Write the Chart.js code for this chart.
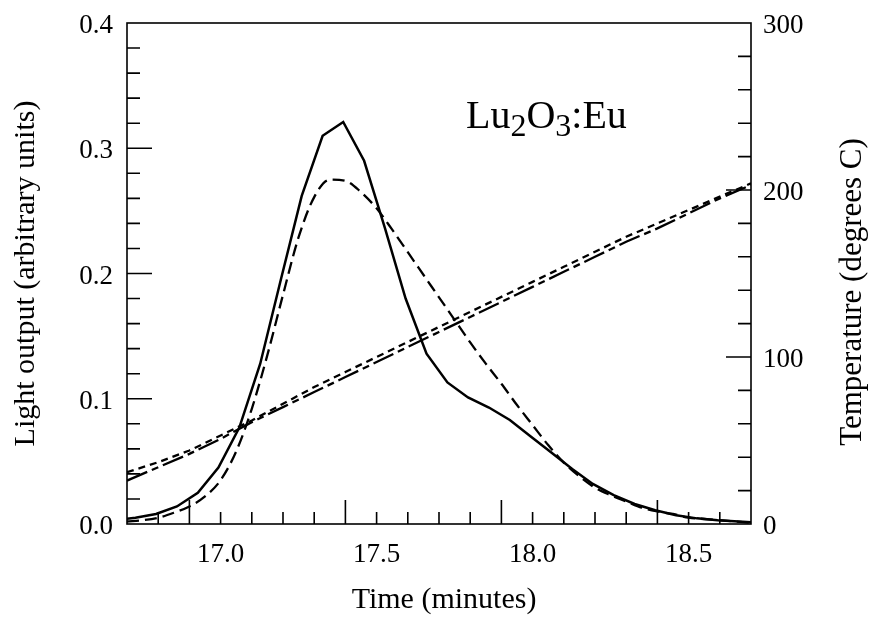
<!DOCTYPE html>
<html>
<head>
<meta charset="utf-8">
<script src="https://cdn.jsdelivr.net/npm/chart.js@4/dist/chart.umd.min.js"></script>
<style>
    body { margin: 0; background: #fff; }
    canvas { display: block; }
</style>
</head>
<body>
<canvas id="glowChart" width="869" height="620"></canvas>
<script>
// measured glow curve (solid)
const timeMeasured = [16.66, 16.727, 16.793, 16.86, 16.927, 16.993, 17.06, 17.127, 17.193, 17.26,
    17.327, 17.393, 17.46, 17.527, 17.593, 17.66, 17.727, 17.793, 17.86, 17.927,
    17.993, 18.06, 18.127, 18.193, 18.26, 18.327, 18.393, 18.46, 18.527, 18.593, 18.66, 18.727];
const lightMeasured = [0.003, 0.005, 0.008, 0.014, 0.025, 0.045, 0.077, 0.128, 0.195, 0.262,
    0.310, 0.321, 0.290, 0.236, 0.180, 0.136, 0.113, 0.101, 0.093, 0.083,
    0.070, 0.057, 0.044, 0.032, 0.023, 0.016, 0.011, 0.007, 0.0045, 0.003, 0.002, 0.001];

// fitted glow curve (long dash)
const timeFit = [16.70, 16.75, 16.80, 16.85, 16.90, 16.95, 17.00, 17.05, 17.10, 17.15,
    17.20, 17.25, 17.30, 17.35, 17.40, 17.45, 17.50, 17.55, 17.60, 17.65,
    17.70, 17.75, 17.80, 17.85, 17.90, 17.95, 18.00, 18.05, 18.10, 18.15,
    18.20, 18.25, 18.30, 18.35, 18.40, 18.45, 18.50, 18.55, 18.60, 18.65, 18.70];
const lightFit = [0.002, 0.003, 0.005, 0.009, 0.014, 0.022, 0.035, 0.058, 0.092, 0.135,
    0.183, 0.229, 0.261, 0.275, 0.274, 0.265, 0.252, 0.235, 0.217, 0.199,
    0.181, 0.163, 0.145, 0.128, 0.112, 0.095, 0.079, 0.063, 0.049, 0.038,
    0.029, 0.023, 0.018, 0.013, 0.010, 0.008, 0.005, 0.004, 0.003, 0.002, 0.001];

// temperature traces (right axis)
const timeTemp = [16.7, 16.8, 16.9, 17.0, 17.1, 17.2, 17.3, 17.4, 17.5, 17.6,
    17.7, 17.8, 17.9, 18.0, 18.1, 18.2, 18.3, 18.4, 18.5, 18.6, 18.7];
const tempShortDash = [31, 37, 44, 53, 62, 72, 82, 91, 100, 109,
    118, 127, 136, 145, 154, 163, 172, 180, 188, 196, 204];
const tempDashDot = [26, 34, 42, 51, 61, 70, 79, 88, 97, 106,
    115, 124, 133, 142, 151, 160, 169, 177, 186, 195, 203];

const xTicks = [17.0, 17.5, 18.0, 18.5];
const lightTicks = [0.0, 0.1, 0.2, 0.3, 0.4];
const tempTicks = [0, 100, 200, 300];

const FONT = "'Liberation Serif', 'Times New Roman', serif";

let glowPage = {};

glowPage.toPoints = function (xs, ys) {
    return xs.map((x, i) => ({ x: x, y: ys[i] }));
};

glowPage.fixedTicks = function (values) {
    return function (scale) {
        scale.ticks = values.map((v) => ({ value: v }));
    };
};

// fixed axis width, and no extra room kept for the end labels
glowPage.fixedWidth = function (width) {
    return function (scale) {
        scale.width = width;
        scale.paddingTop = 0;
        scale.paddingBottom = 0;
    };
};

// inward tick marks, frame, axis titles and the sample label
glowPage.decorPlugin = {
    id: "decor",
    afterDraw(chart) {
        const ctx = chart.ctx;
        const a = chart.chartArea;
        const sx = chart.scales.x;
        const sy = chart.scales.y;
        const sy2 = chart.scales.y2;

        ctx.save();
        ctx.strokeStyle = "#000";
        ctx.lineWidth = 1.6;
        ctx.strokeRect(a.left, a.top, a.right - a.left, a.bottom - a.top);

        ctx.beginPath();
        for (let i = 1; i < 20; i++) {
            let px = sx.getPixelForValue(16.7 + i * 0.1);
            let len = (i + 3) % 5 == 0 ? 24 : 12;
            ctx.moveTo(px, a.bottom);
            ctx.lineTo(px, a.bottom - len);
        }
        for (let i = 1; i < 20; i++) {
            let py = sy.getPixelForValue(i * 0.02);
            let len = i % 5 == 0 ? 25 : 13;
            ctx.moveTo(a.left, py);
            ctx.lineTo(a.left + len, py);
        }
        for (let i = 1; i < 15; i++) {
            let py = sy2.getPixelForValue(i * 20);
            let len = i % 5 == 0 ? 25 : 13;
            ctx.moveTo(a.right, py);
            ctx.lineTo(a.right - len, py);
        }
        ctx.stroke();

        ctx.fillStyle = "#000";
        ctx.font = "30px " + FONT;
        ctx.textAlign = "center";
        ctx.textBaseline = "middle";
        ctx.fillText("Time (minutes)", 444, 600);

        ctx.save();
        ctx.translate(26, (a.top + a.bottom) / 2);
        ctx.rotate(-Math.PI / 2);
        ctx.fillText("Light output (arbitrary units)", 0, 0);
        ctx.restore();

        ctx.save();
        ctx.translate(853, 292);
        ctx.rotate(-Math.PI / 2);
        ctx.font = "31px " + FONT;
        ctx.fillText("Temperature (degrees C)", 0, 0);
        ctx.restore();

        // Lu2O3:Eu with subscripts
        let parts = [["Lu", false], ["2", true], ["O", false], ["3", true], [":Eu", false]];
        let x = 466;
        ctx.textAlign = "left";
        ctx.textBaseline = "alphabetic";
        for (const [txt, sub] of parts) {
            ctx.font = (sub ? "32px " : "40px ") + FONT;
            ctx.fillText(txt, x, sub ? 136 : 128);
            x += ctx.measureText(txt).width;
        }
        ctx.restore();
    },
};

glowPage.create = function () {
    let tickFont = { family: FONT, size: 27 };
    let lineBase = {
        borderColor: "#000",
        backgroundColor: "#000",
        borderWidth: 2.3,
        pointRadius: 0,
        fill: false,
    };

    let datasets = [];
    datasets.push(Object.assign({}, lineBase, {
        label: "Measured",
        data: glowPage.toPoints(timeMeasured, lightMeasured),
        yAxisID: "y",
        borderWidth: 2.5,
        tension: 0,
    }));
    datasets.push(Object.assign({}, lineBase, {
        label: "Fit",
        data: glowPage.toPoints(timeFit, lightFit),
        yAxisID: "y",
        borderDash: [12, 6],
        cubicInterpolationMode: "monotone",
    }));
    datasets.push(Object.assign({}, lineBase, {
        label: "Temperature A",
        data: glowPage.toPoints(timeTemp, tempShortDash),
        yAxisID: "y2",
        borderDash: [7, 5],
        tension: 0,
    }));
    datasets.push(Object.assign({}, lineBase, {
        label: "Temperature B",
        data: glowPage.toPoints(timeTemp, tempDashDot),
        yAxisID: "y2",
        borderDash: [22, 5, 7, 5],
        tension: 0,
    }));

    glowPage.canvas = document.getElementById("glowChart");
    glowPage.chart = new Chart(glowPage.canvas, {
        type: "line",
        data: { datasets: datasets },
        options: {
            responsive: false,
            animation: false,
            devicePixelRatio: 1,
            layout: { padding: { top: 23, left: 0, right: 0, bottom: 0 } },
            plugins: {
                legend: { display: false },
                tooltip: { enabled: false },
            },
            scales: {
                x: {
                    type: "linear",
                    position: "bottom",
                    min: 16.7,
                    max: 18.7,
                    grid: { display: false, drawTicks: false },
                    border: { display: false },
                    afterBuildTicks: glowPage.fixedTicks(xTicks),
                    afterFit: (scale) => { scale.height = 96; },
                    ticks: {
                        font: tickFont,
                        color: "#000",
                        padding: 15,
                        maxRotation: 0,
                        callback: (v) => v.toFixed(1),
                    },
                },
                y: {
                    type: "linear",
                    position: "left",
                    min: 0,
                    max: 0.4,
                    grid: { display: false, drawTicks: false },
                    border: { display: false },
                    afterBuildTicks: glowPage.fixedTicks(lightTicks),
                    afterFit: glowPage.fixedWidth(127),
                    ticks: {
                        font: tickFont,
                        color: "#000",
                        padding: 14,
                        labelOffset: 3,
                        callback: (v) => v.toFixed(1),
                    },
                },
                y2: {
                    type: "linear",
                    position: "right",
                    min: 0,
                    max: 300,
                    grid: { display: false, drawTicks: false },
                    border: { display: false },
                    afterBuildTicks: glowPage.fixedTicks(tempTicks),
                    afterFit: glowPage.fixedWidth(118),
                    ticks: {
                        font: tickFont,
                        color: "#000",
                        padding: 12,
                        labelOffset: 3,
                        callback: (v) => String(v),
                    },
                },
            },
        },
        plugins: [glowPage.decorPlugin],
    });
};

glowPage.create();
</script>
</body>
</html>
